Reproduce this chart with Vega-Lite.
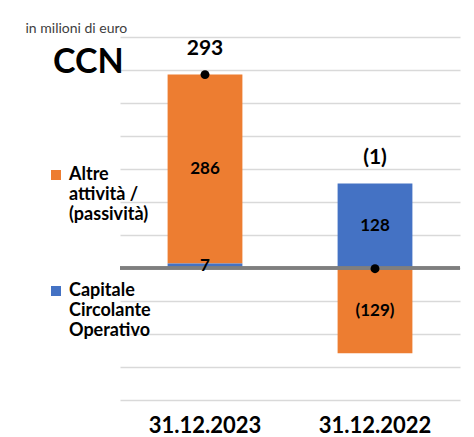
{
  "$schema": "https://vega.github.io/schema/vega-lite/v6.json",
  "autosize": {"type": "none"},
  "padding": {"left": 120, "top": 37, "right": 14, "bottom": 37},
  "width": 340,
  "height": 363,
  "background": "white",
  "config": {
    "font": "Lato",
    "view": {"stroke": null},
    "axisY": {
      "title": "in milioni di euro",
      "titleAngle": 0,
      "titleX": -95,
      "titleY": -5,
      "titleAlign": "left",
      "titleBaseline": "alphabetic",
      "titleFont": "Lato",
      "titleFontSize": 14,
      "titleFontWeight": "normal",
      "titleColor": "#404040",
      "labels": false,
      "ticks": false,
      "domain": false,
      "grid": true,
      "gridColor": "#d9d9d9",
      "gridWidth": 1.5
    },
    "axisX": {
      "title": null,
      "labelAngle": 0,
      "labelFont": "Lato",
      "labelFontSize": 22,
      "labelFontWeight": "bold",
      "labelColor": "#000000",
      "labelBaseline": "alphabetic",
      "labelPadding": 32,
      "ticks": false,
      "domain": false,
      "grid": false
    }
  },
  "title": {
    "text": "CCN",
    "anchor": "start",
    "frame": "group",
    "fontSize": 34,
    "fontWeight": "bold",
    "font": "Lato",
    "color": "#000000",
    "dx": -67,
    "dy": 63
  },
  "data": {
    "values": [
      {"date": "31.12.2023", "series": "Altre attività / (passività)", "value": 286},
      {"date": "31.12.2023", "series": "Capitale Circolante Operativo", "value": 7},
      {"date": "31.12.2022", "series": "Altre attività / (passività)", "value": -129},
      {"date": "31.12.2022", "series": "Capitale Circolante Operativo", "value": 128}
    ]
  },
  "layer": [
    {
      "mark": {"type": "bar"},
      "encoding": {
        "x": {
          "field": "date",
          "type": "nominal",
          "sort": ["31.12.2023", "31.12.2022"],
          "title": null,
          "scale": {"paddingInner": 0.56, "paddingOuter": 0.28}
        },
        "y": {
          "field": "value",
          "type": "quantitative",
          "stack": "zero",
          "title": "in milioni di euro",
          "scale": {"domain": [-200, 350], "nice": false},
          "axis": {"values": [-200, -150, -100, -50, 0, 50, 100, 150, 200, 250, 300, 350]}
        },
        "color": {
          "field": "series",
          "type": "nominal",
          "scale": {
            "domain": ["Altre attività / (passività)", "Capitale Circolante Operativo"],
            "range": ["#ED7D31", "#4472C4"]
          },
          "legend": {
            "title": null,
            "orient": "none",
            "legendX": -73,
            "legendY": 129,
            "padding": 0,
            "symbolType": "square",
            "symbolSize": 100,
            "symbolStrokeWidth": 0,
            "labelFont": "Lato",
            "labelFontSize": 18,
            "labelFontWeight": "bold",
            "labelColor": "#000000",
            "labelBaseline": "top",
            "labelLimit": 200,
            "labelOffset": 4,
            "rowPadding": 58,
            "labelExpr": "datum.label == 'Altre attività / (passività)' ? ['Altre', 'attività /', '(passività)'] : ['Capitale', 'Circolante', 'Operativo']",
            "encode": {
              "labels": {"update": {"lineHeight": {"value": 20}, "dy": {"value": -9}}}
            }
          }
        },
        "order": {"field": "series", "sort": "descending"}
      }
    },
    {
      "mark": {"type": "rule", "color": "#7f7f7f", "strokeWidth": 3},
      "encoding": {"y": {"datum": 0, "title": "in milioni di euro",
              "axis": {"values": [-200, -150, -100, -50, 0, 50, 100, 150, 200, 250, 300, 350]}}}
    },
    {
      "mark": {"type": "text", "font": "Lato", "fontSize": 17, "fontWeight": "bold", "color": "#000000", "baseline": "middle"},
      "encoding": {
        "x": {"field": "date", "type": "nominal", "sort": ["31.12.2023", "31.12.2022"], "title": null},
        "y": {"field": "value", "type": "quantitative", "stack": "zero", "bandPosition": 0.5, "title": "in milioni di euro",
              "axis": {"values": [-200, -150, -100, -50, 0, 50, 100, 150, 200, 250, 300, 350]}},
        "detail": {"field": "series"},
        "order": {"field": "series", "sort": "descending"},
        "text": {"field": "value", "type": "quantitative", "format": "(d"}
      }
    },
    {
      "transform": [
        {"joinaggregate": [{"op": "sum", "field": "value", "as": "total"}], "groupby": ["date"]},
        {"filter": "datum.value > 0"},
        {"aggregate": [{"op": "sum", "field": "value", "as": "top"}, {"op": "max", "field": "total", "as": "total"}], "groupby": ["date"]}
      ],
      "encoding": {
        "x": {"field": "date", "type": "nominal", "sort": ["31.12.2023", "31.12.2022"], "title": null}
      },
      "layer": [
        {
          "mark": {"type": "point", "filled": true, "color": "#000000", "size": 80, "opacity": 1},
          "encoding": {"y": {"field": "total", "type": "quantitative", "title": "in milioni di euro",
              "axis": {"values": [-200, -150, -100, -50, 0, 50, 100, 150, 200, 250, 300, 350]}}}
        },
        {
          "mark": {"type": "text", "font": "Lato", "fontSize": 21, "fontWeight": "bold", "color": "#000000", "baseline": "middle", "dy": -26},
          "encoding": {
            "y": {"field": "top", "type": "quantitative", "title": "in milioni di euro",
              "axis": {"values": [-200, -150, -100, -50, 0, 50, 100, 150, 200, 250, 300, 350]}},
            "text": {"field": "total", "type": "quantitative", "format": "(d"}
          }
        }
      ]
    }
  ]
}
